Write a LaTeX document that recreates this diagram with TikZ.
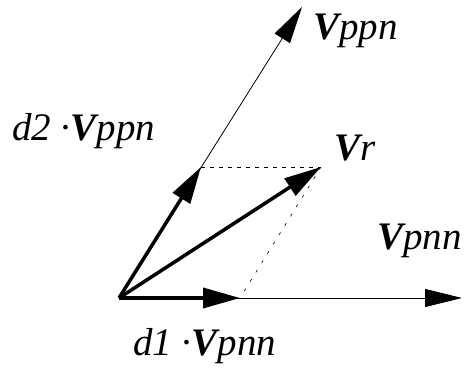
\documentclass[tikz,border=0pt]{standalone}
\usepackage{fontspec}
\setmainfont{Liberation Serif}
\usetikzlibrary{arrows.meta}
\begin{document}
\begin{tikzpicture}[x=1pt,y=1pt,
  thinvec/.style={line width=0.8pt,-{Triangle[length=37pt,width=18pt]}},
  thickvec/.style={line width=3.5pt,-{Triangle[length=37pt,width=20pt]}},
  lbl/.style={anchor=base west,inner sep=0pt,font=\fontsize{39}{42}\selectfont\itshape}]
\useasboundingbox (0,0) rectangle (467,368);
\coordinate (O) at (119,70);
\coordinate (pnn) at (462,70);
\coordinate (ppn) at (302,361);
\coordinate (d1) at (240,70);
\coordinate (d2) at (201,201);
\coordinate (r) at (321,201);
% construction lines
\draw[line width=0.6pt, dash pattern=on 4pt off 5pt] (d2) -- (r);
\draw[line width=0.6pt, dash pattern=on 3pt off 8pt] (r) -- (d1);
% thin vectors
\draw[thinvec] (O) -- (pnn);
\draw[thinvec] (O) -- (ppn);
% thick vectors
\draw[thickvec] (O) -- (d1);
\draw[thickvec] (O) -- (d2);
\draw[thickvec] (O) -- (r);
% labels
\node[lbl] (lppn) at (313,329) {\textbf{V}ppn};
\node[lbl] (lr) at (334,208) {\textbf{V}r};
\node[lbl] (lpnn) at (377,119) {\textbf{V}pnn};
\node[lbl] (ld2) at (12,228) {d2 ·\textbf{V}ppn};
\node[lbl] (ld1) at (133,13) {d1 ·\textbf{V}pnn};
\end{tikzpicture}
\end{document}
